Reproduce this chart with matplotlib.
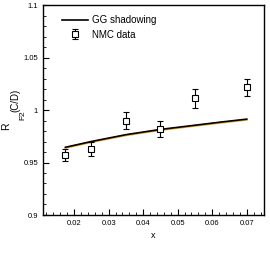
import numpy as np
import matplotlib.pyplot as plt
from matplotlib.ticker import MultipleLocator, FuncFormatter

# GG shadowing curve
x_th = [0.0175, 0.025, 0.035, 0.045, 0.055, 0.0625, 0.07]
r_th = [0.9645, 0.970, 0.9765, 0.9815, 0.9855, 0.9885, 0.9913]

# NMC data
x_nmc = [0.0175, 0.025, 0.035, 0.045, 0.055, 0.07]
r_nmc = [0.957, 0.963, 0.990, 0.982, 1.011, 1.0215]
e_nmc = [0.006, 0.007, 0.008, 0.008, 0.009, 0.008]

plt.rcParams['font.family'] = ['Liberation Sans', 'DejaVu Sans']

W, H = 270, 259
fig = plt.figure(figsize=(W / 100, H / 100), dpi=100)
ax = fig.add_axes([43 / W, 44 / H, 221 / W, 210 / H])

ax.plot(x_th, np.array(r_th) - 0.0006, color="#f0a020", lw=1.4)
ax.plot(x_th, r_th, color="black", lw=1.2, label="GG shadowing")
ax.errorbar(x_nmc, r_nmc, yerr=e_nmc, fmt="s", mfc="white", mec="black",
            ms=5, mew=0.8, ecolor="black", elinewidth=0.8, capsize=2.5,
            capthick=0.8, label="NMC data")

ax.set_xlim(0.011, 0.075)
ax.set_ylim(0.9, 1.1)
ax.xaxis.set_major_locator(MultipleLocator(0.01))
ax.xaxis.set_minor_locator(MultipleLocator(0.002))
ax.yaxis.set_major_locator(MultipleLocator(0.05))
ax.yaxis.set_minor_locator(MultipleLocator(0.01))
ax.xaxis.set_major_formatter(FuncFormatter(lambda v, p: f"{v:g}"))
ax.yaxis.set_major_formatter(FuncFormatter(lambda v, p: f"{round(v, 3):g}"))
ax.tick_params(which="both", direction="in", labelsize=5.5, top=False, right=False)
ax.tick_params(which="major", length=4, width=0.8)
ax.tick_params(which="minor", length=2, width=0.6)
for s in ax.spines.values():
    s.set_linewidth(1.0)

ax.set_xlabel("x", fontsize=6.5, labelpad=3)

# y label pieces, placed like the original: R, (C/D), F2
fig.text(6.5 / W, 1 - 126 / H, "R", rotation=90, fontsize=7.5, ha="center", va="center")
fig.text(15.5 / W, 1 - 100 / H, "(C/D)", rotation=90, fontsize=7, ha="center", va="center")
fig.text(23 / W, 1 - 115.5 / H, "F2", rotation=90, fontsize=6, ha="center", va="center")

leg = ax.legend(loc="upper left", bbox_to_anchor=(0.07, 0.97), frameon=False,
                fontsize=7, handlelength=2.6, handletextpad=0.5,
                labelspacing=0.45, borderaxespad=0)

fig.savefig("out.png", dpi=100)
